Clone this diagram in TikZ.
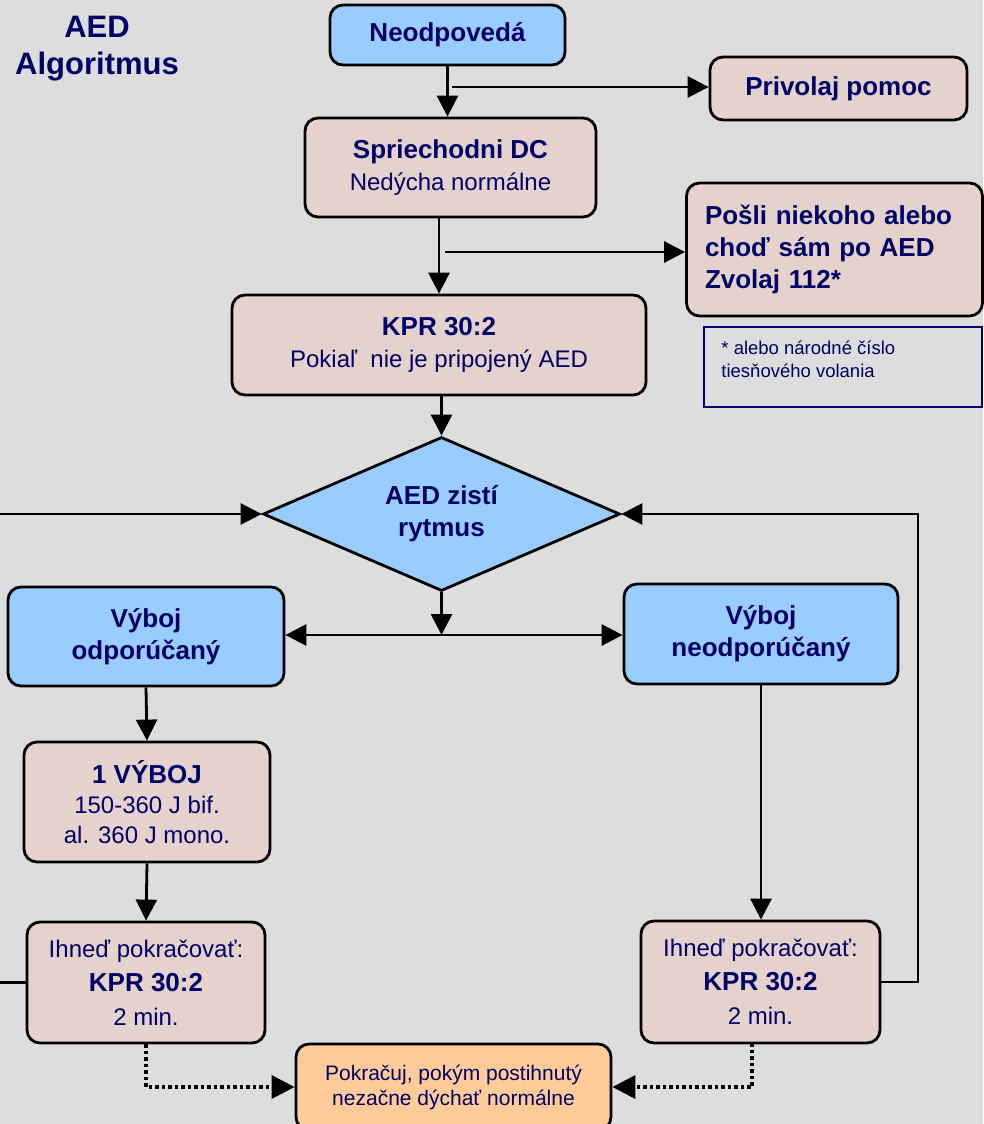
\documentclass[tikz,border=0pt]{standalone}
\usepackage{fontspec}
\setmainfont{Liberation Sans}
\usetikzlibrary{arrows.meta,shapes.geometric,calc}
\definecolor{bgc}{RGB}{221,221,221}
\definecolor{navy}{RGB}{0,0,102}
\definecolor{pinkf}{RGB}{230,210,204}
\definecolor{bluef}{RGB}{153,204,255}
\definecolor{orangef}{RGB}{255,204,153}
\newcommand{\bxt}[1]{{\fontsize{26}{32}\selectfont\bfseries #1}}
\begin{document}
\begin{tikzpicture}[x=1pt,y=-1pt,
  box/.style={draw=black, line width=2.8pt, rounded corners=13pt, text=navy, align=center, inner sep=0pt,
    font=\fontsize{24}{32}\selectfont},
  pinkbox/.style={box, fill=pinkf},
  bluebox/.style={box, fill=bluef},
  con/.style={line width=2.8pt, line join=miter},
  arr/.style={con, -{Triangle[length=21pt,width=21pt]}},
  dots/.style={line width=3.5pt, dash pattern=on 3.5pt off 3pt, -{Triangle[length=23pt,width=23pt]}}
]
\fill[bgc] (0,0) rectangle (983,1124);
\useasboundingbox (0,0) rectangle (983,1124);

\node[text=navy, font=\fontsize{31}{37}\selectfont\bfseries, align=center] (title) at (97,48.5) {AED\\Algoritmus};

\node[bluebox, minimum width=235pt, minimum height=60pt] (neo) at (447.5,35) {\bxt{Neodpovedá}};
\node[pinkbox, minimum width=257pt, minimum height=63pt] (priv) at (838.5,88.5) {\bxt{Privolaj pomoc}};
\node[pinkbox, minimum width=291pt, minimum height=99pt] (spr) at (450.5,167.5) {\bxt{Spriechodni DC}\\Nedýcha normálne};
\node[pinkbox, minimum width=296pt, minimum height=133pt, align=left, text width=259pt, inner xsep=18.5pt,
  font=\fontsize{26}{32}\selectfont\bfseries] (posli) at (834.5,249.5) {Pošli niekoho alebo\\choď sám po AED\\Zvolaj 112*};
\node[draw=navy, line width=1.5pt, minimum width=278pt, minimum height=80pt, inner sep=0pt] (foot) at (843,367) {};
\node[anchor=north west, inner sep=0pt, align=left, text=navy, font=\fontsize{18.5}{23}\selectfont] (foottext)
  at ($(foot.north west)+(18,14)$) {* alebo národné číslo\\tiesňového volania};
\node[pinkbox, minimum width=414pt, minimum height=100pt] (kpr) at (439,345) {\bxt{KPR 30:2}\\Pokiaľ\ \ nie je pripojený AED};

\node[diamond, aspect=2.3, draw=black, line width=2.8pt, fill=bluef, minimum width=357pt, minimum height=154pt, inner sep=0pt,
  text=navy, align=center, font=\fontsize{26}{32}\selectfont\bfseries] (dia) at (441.5,514) {AED zistí\\rytmus};

\node[bluebox, minimum width=276pt, minimum height=99pt] (vodp) at (146,636.5) {\bxt{Výboj}\\\bxt{odporúčaný}};
\node[bluebox, minimum width=274pt, minimum height=100pt] (vneo) at (761,634) {\bxt{Výboj}\\\bxt{neodporúčaný}};

\node[pinkbox, minimum width=246pt, minimum height=120pt, font=\fontsize{24}{30}\selectfont] (vyb) at (147,802)
  {\bxt{1 VÝBOJ}\\150-360 J bif.\\al. 360 J mono.};
\node[pinkbox, minimum width=238pt, minimum height=121pt, font=\fontsize{24}{34}\selectfont] (ihL) at (146,982.5)
  {Ihneď pokračovať:\\\bxt{KPR 30:2}\\2 min.};
\node[pinkbox, minimum width=239pt, minimum height=122pt, font=\fontsize{24}{34}\selectfont] (ihR) at (760.5,982)
  {Ihneď pokračovať:\\\bxt{KPR 30:2}\\2 min.};
\node[box, fill=orangef, minimum width=315pt, minimum height=86pt, font=\fontsize{21}{25}\selectfont] (pokr) at (453.5,1087)
  {Pokračuj, pokým postihnutý\\nezačne dýchať normálne};

% coordinates
\coordinate (split) at (441.5,635);
\coordinate (L1) at (0,982.5);
\coordinate (L2) at (0,514);
\coordinate (R2) at (918,514);
\coordinate (dR) at (752,1043);
\coordinate (b1) at (452,87);
\coordinate (b2) at (445,252);

% connectors
\draw[arr] (neo.south) -- (neo.south |- spr.north);
\draw[arr] (b1) -- (priv.west |- b1);
\draw[arr] (kpr.north |- spr.south) -- (kpr.north);
\draw[arr] (b2) -- (posli.west |- b2);
\draw[arr] (dia.north |- kpr.south) -- (dia.north);
\draw[arr] (dia.south) -- (split);
\draw[arr] (split) -- (vodp.east |- split);
\draw[arr] (split) -- (vneo.west |- split);
\draw[arr] (vodp.south) -- (vyb.north);
\draw[arr] (vyb.south) -- (ihL.north);
\draw[arr] (vneo.south) -- (vneo.south |- ihR.north);
\draw[arr] (L2) -- (dia.west);
\draw[con] (ihL.west) -- (L1);
\draw[arr] (ihR.east) -| (R2) -- (dia.east);
\draw[dots] (ihL.south) |- (pokr.west);
\draw[dots] (dR) |- (pokr.east);
\end{tikzpicture}
\end{document}
